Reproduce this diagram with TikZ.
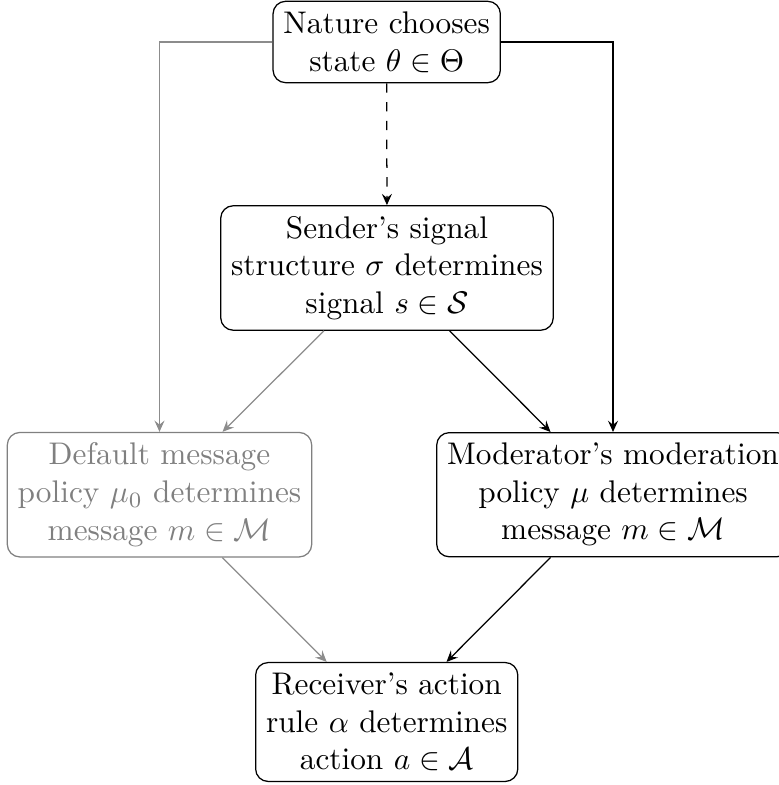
\documentclass[tikz,border=0pt]{standalone}
\usetikzlibrary{arrows.meta}
\begin{document}
\begin{tikzpicture}[x=0.3195pt,y=-0.3195pt,
  box/.style={draw,rounded corners=4pt,align=center,inner sep=3.33pt},
  graybox/.style={box,draw=gray,text=gray},
  arr/.style={-{Stealth[length=3.6pt,width=3.2pt,inset=1.3pt]},line width=0.4pt},
  grayarr/.style={arr,draw=gray!90}]
\useasboundingbox (0,0) rectangle (779,785);
\node[box] (nature) at (386.7,42) {Nature chooses\\state $\theta\in\Theta$};
\node[box] (sender) at (387,268) {Sender's signal\\structure $\sigma$ determines\\signal $s\in\mathcal{S}$};
\node[graybox] (default) at (159.5,494.7) {Default message\\policy $\mu_0$ determines\\message $m\in\mathcal{M}$};
\node[box] (moder) at (613,494.7) {Moderator's moderation\\policy $\mu$ determines\\message $m\in\mathcal{M}$};
\node[box] (recv) at (386.7,722) {Receiver's action\\rule $\alpha$ determines\\action $a\in\mathcal{A}$};
\draw[arr,dashed] (nature) -- (sender);
\draw[grayarr] (nature.west) -| (default);
\draw[arr] (nature.east) -| (moder);
\draw[grayarr] (sender) -- (default);
\draw[arr] (sender) -- (moder);
\draw[grayarr] (default) -- (recv);
\draw[arr] (moder) -- (recv);
\end{tikzpicture}
\end{document}
